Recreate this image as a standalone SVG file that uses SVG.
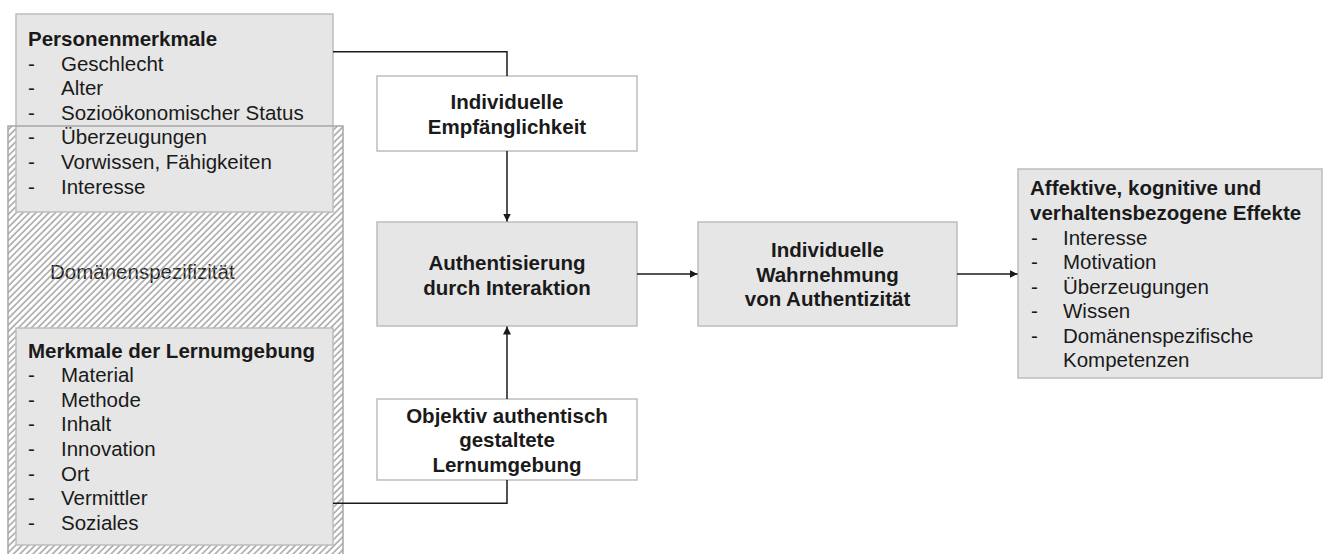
<svg xmlns="http://www.w3.org/2000/svg" width="1323" height="554" viewBox="0 0 1323 554">
<style>
text{font-family:"Liberation Sans",Arial,sans-serif;font-size:20.5px;fill:#1a1a1a}
.b{font-weight:bold}
.c{text-anchor:middle}
.gray{fill:#e6e6e6;stroke:#bdbdbd;stroke-width:1.5}
.white{fill:#ffffff;stroke:#bdbdbd;stroke-width:1.5}
.conn{fill:none;stroke:#1a1a1a;stroke-width:1.5}
</style>
<defs>
<pattern id="hatch" patternUnits="userSpaceOnUse" width="4.6" height="4.6" patternTransform="rotate(45)">
<line x1="1" y1="0" x2="1" y2="4.6" stroke="#7f7f7f" stroke-width="1.1"/>
</pattern>
<marker id="arr" viewBox="0 0 10 10" refX="10" refY="5" markerWidth="8" markerHeight="8" markerUnits="userSpaceOnUse" orient="auto">
<path d="M0,0 L10,5 L0,10 z" fill="#1a1a1a"/>
</marker>
</defs>
<rect width="1323" height="554" fill="#ffffff"/>
<g id="domaenenspezifizitaet">
<text x="50" y="279">Domänenspezifizität</text>
<rect x="8" y="126" width="335" height="440" fill="url(#hatch)"/>
</g>
<g id="personenmerkmale">
<rect class="gray" x="16" y="14" width="317" height="198"/>
<text class="b" x="28" y="46">Personenmerkmale</text>
<text x="28" y="70.6">-</text><text x="61" y="70.6">Geschlecht</text>
<text x="28" y="95.2">-</text><text x="61" y="95.2">Alter</text>
<text x="28" y="119.8">-</text><text x="61" y="119.8">Sozioökonomischer Status</text>
<text x="28" y="144.4">-</text><text x="61" y="144.4">Überzeugungen</text>
<text x="28" y="169">-</text><text x="61" y="169">Vorwissen, Fähigkeiten</text>
<text x="28" y="193.6">-</text><text x="61" y="193.6">Interesse</text>
</g>
<g id="lernumgebung">
<rect class="gray" x="16" y="328" width="317" height="217"/>
<text class="b" x="28" y="357.5">Merkmale der Lernumgebung</text>
<text x="28" y="382.1">-</text><text x="61" y="382.1">Material</text>
<text x="28" y="406.7">-</text><text x="61" y="406.7">Methode</text>
<text x="28" y="431.3">-</text><text x="61" y="431.3">Inhalt</text>
<text x="28" y="455.9">-</text><text x="61" y="455.9">Innovation</text>
<text x="28" y="480.5">-</text><text x="61" y="480.5">Ort</text>
<text x="28" y="505.1">-</text><text x="61" y="505.1">Vermittler</text>
<text x="28" y="529.7">-</text><text x="61" y="529.7">Soziales</text>
</g>
<rect x="8" y="126" width="335" height="440" fill="none" stroke="#a6a6a6" stroke-width="1.5"/>
<g id="empfaenglichkeit">
<rect class="white" x="377" y="76" width="260" height="75"/>
<text class="b c" x="507" y="109">Individuelle</text>
<text class="b c" x="507" y="133.5">Empfänglichkeit</text>
</g>
<g id="authentisierung">
<rect class="gray" x="377" y="222" width="260" height="104"/>
<text class="b c" x="507" y="270">Authentisierung</text>
<text class="b c" x="507" y="294.5">durch Interaktion</text>
</g>
<g id="objektiv">
<rect class="white" x="377" y="399" width="260" height="81"/>
<text class="b c" x="507" y="422.5">Objektiv authentisch</text>
<text class="b c" x="507" y="447">gestaltete</text>
<text class="b c" x="507" y="471.5">Lernumgebung</text>
</g>
<g id="wahrnehmung">
<rect class="gray" x="698" y="222" width="259" height="104"/>
<text class="b c" x="827.5" y="257">Individuelle</text>
<text class="b c" x="827.5" y="281.5">Wahrnehmung</text>
<text class="b c" x="827.5" y="306">von Authentizität</text>
</g>
<g id="effekte">
<rect class="gray" x="1018" y="169" width="304" height="209"/>
<text class="b" x="1030" y="195">Affektive, kognitive und</text>
<text class="b" x="1030" y="219.6">verhaltensbezogene Effekte</text>
<text x="1031" y="244.5">-</text><text x="1063" y="244.5">Interesse</text>
<text x="1031" y="269">-</text><text x="1063" y="269">Motivation</text>
<text x="1031" y="293.6">-</text><text x="1063" y="293.6">Überzeugungen</text>
<text x="1031" y="318.2">-</text><text x="1063" y="318.2">Wissen</text>
<text x="1031" y="342.8">-</text><text x="1063" y="342.8">Domänenspezifische</text>
<text x="1063" y="367.4">Kompetenzen</text>
</g>
<g id="connectors">
<path class="conn" d="M333,51.7 H507 V76"/>
<path class="conn" d="M507,151 V221.5" marker-end="url(#arr)"/>
<path class="conn" d="M333,503.3 H507 V480"/>
<path class="conn" d="M507,399 V326.5" marker-end="url(#arr)"/>
<path class="conn" d="M637,274 H697.5" marker-end="url(#arr)"/>
<path class="conn" d="M957,274 H1017.5" marker-end="url(#arr)"/>
</g>
</svg>
